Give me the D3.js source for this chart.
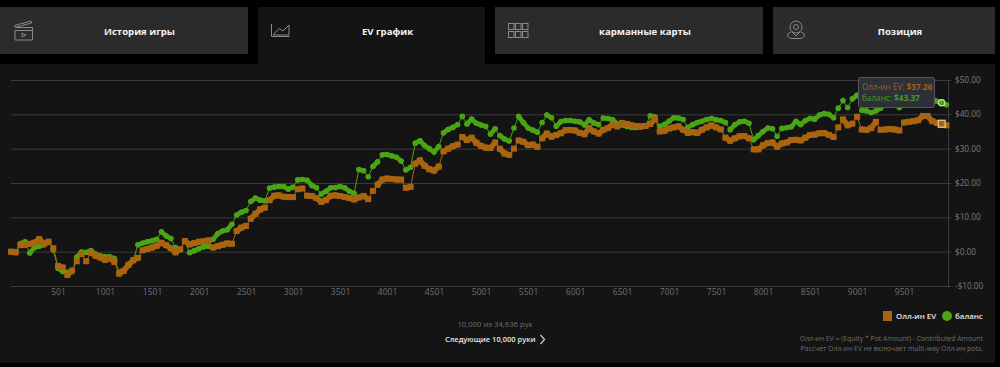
<!DOCTYPE html>
<html><head><meta charset="utf-8">
<script src="https://cdnjs.cloudflare.com/ajax/libs/d3/7.8.5/d3.min.js"></script>
<style>html,body{margin:0;padding:0;background:#000;overflow:hidden}svg{display:block}text{font-family:"Open Sans",sans-serif}</style>
</head><body><svg id="c" width="1000" height="367"></svg>
<script>
const handStep = 50;
const evValues = [0,-0.2,1.9,2,2.3,2.6,3.7,2.3,2.9,1,-4.2,-4.6,-6.8,-5.5,-2.8,-0.7,-2.8,-0.3,-1.2,-1.7,-2.4,-1.9,-3,-6.4,-5.6,-3.8,-2.5,-1.8,0.4,0.8,1.2,1.7,2.6,1.9,1,-0.2,0.7,3.1,2.1,2.5,2.9,3,3.3,1.2,1.6,2,2.4,2.3,6,7,7.5,9.6,11,12.3,12.8,15,16.3,16.4,16,15.9,15.9,18.2,18.4,16.3,16.2,15.6,14.5,15,16.3,16.4,16.2,15.9,15.6,15.2,15.8,16.2,15.3,17.7,19.5,21,21.3,21.2,21,21,18.6,18.9,25.6,26.6,25,24,23.6,24.8,29.2,30,30.7,31.2,33.4,32.5,33.2,31.7,30.8,30.3,30.2,31.8,30,28.6,28.2,30,32.4,32,31,31.2,30.5,33,34.4,33.5,34,34.5,35.4,35.4,35.3,34.6,34.2,36,35,34.4,35.5,36,37,36.5,37.5,37.2,36.8,36.6,36.5,36.6,37.2,38.6,35,35.2,35.9,36.2,36.5,35.5,34.6,34.8,34.6,35.5,36.2,36.8,36.2,35.6,33.2,32.3,33,33.6,33.7,33,29.8,29.8,31,31.6,31.8,30.6,31.5,31.8,32.5,32.6,32.4,33.2,34,34.1,34.5,34.5,34,33.4,36.2,38.5,36.8,37.3,39.3,35.6,35.5,36,37.8,35.5,35.6,35.7,35.6,35.3,37.6,37.8,38,38.3,39.5,39.5,38,37.5,37.26,36.8];
const balanceValues = [0,-0.1,2.4,2.9,-0.4,1.2,1.6,2,2.8,0.5,-4.8,-5.8,-6,-5.8,-1.6,-0.1,-0.2,0.3,-0.7,-1.2,-1.5,-1.5,-2,-6,-5.5,-3.8,-2.4,2,2.5,2.9,3.2,3.6,5.8,4.6,3.8,1.2,0.6,3,-0.3,0.3,0.9,1.4,1.6,3.6,5.3,6,6.4,8,10.7,11.5,12,14.6,15.6,15,14.8,18.5,18.8,19,19,18.2,18.8,20.9,21,20.8,19.3,18.6,16.8,17.6,18.6,18.7,19,18.6,17.6,17,23.9,23.6,21.8,24.8,26.2,28.2,28.3,27.9,27.5,26.4,23.8,24.6,31.6,32.3,30.9,30,29,30.6,34.6,35.6,36.2,37,39.4,37.2,38.6,37.4,36.9,36.5,34.2,35.8,33.8,32.8,32.2,36,39.4,37.6,36,35.4,34.8,37.6,39.8,39,36.5,37.9,38.2,38.2,38,37.8,36.9,38.4,37.5,37,38.9,38.8,38.4,37.2,36.9,36.5,36.2,36.2,36.3,36.6,39.6,39.3,36.5,37,38,39,38.9,38.5,36.2,37,37.6,38,38.5,38.8,38.4,38.2,37.6,35.5,37,37.8,38,37.4,32.6,33.8,35,36,35.8,33.6,35.9,36.1,36.4,38,37,38.2,38.8,38.6,39.8,40.2,40,39,41.8,44,42,44.5,45.6,41.2,41,40.5,41,41.8,44,46,43,42,44,45,44.5,44,46.5,46,44.5,43.8,43.37,42.8];
const hands = evValues.map((_, i) => 1 + i * handStep);
const xTicks = [501,1001,1501,2001,2501,3001,3501,4001,4501,5001,5501,6001,6501,7001,7501,8001,8501,9001,9501];
const yTicks = [-10,0,10,20,30,40,50];
const tabs = ["История игры","EV график","карманные карты","Позиция"];
const legendNames = ["Олл-ин EV","баланс"];
const footnotes = ["Олл-ин EV = (Equity * Pot Amount) - Contributed Amount","Рассчет Олл-ин EV не включает multi-way Олл-ин pots."];

const evColor = "#a9640f", balColor = "#4aa515";
const svg = d3.select("#c");
const x = d3.scaleLinear().domain([1,10000]).range([11,951]);
const y = d3.scaleLinear().domain([-10,50]).range([286,80]);
const fmt = v => (v<0?"-$":"$") + Math.abs(v).toFixed(2);

// panel and tabs
svg.append("rect").attr("x",0).attr("y",64).attr("width",995).attr("height",299).attr("fill","#141414");
const tabBox = [[0,248,7,47,"#2b2b2b"],[258,227,7,57,"#141414"],[495,268,7,47,"#2b2b2b"],[773,222,7,47,"#2b2b2b"]];
const tabCx = [139.5,387.5,645,900];
tabBox.forEach((t,i)=>{
  svg.append("rect").attr("x",t[0]).attr("y",t[2]).attr("width",t[1]).attr("height",t[3]).attr("fill",t[4]);
  svg.append("text").attr("x",tabCx[i]).attr("y",34.5).attr("text-anchor","middle")
    .attr("font-size",9.6).attr("font-weight",700).attr("fill","#f4f4f4").text(tabs[i]);
});
const icon = svg.append("g").attr("fill","none").attr("stroke","#8a8a8a").attr("stroke-width",1);
icon.append("path").attr("d","M15 30.5H32.5V40H15ZM15 27.5H32.5V30.5M14.5 25.5L31 21L31.5 23L15 27.5ZM22 33V37L26 35Z");
icon.append("path").attr("d","M271.5 24V36.5H289.5M273 35L279 28.5L283 31L289 25V35Z");
d3.range(3).forEach(c=>d3.range(2).forEach(r=>icon.append("rect").attr("x",508.5+c*7).attr("y",23.5+r*8).attr("width",5.5).attr("height",6)));
icon.append("circle").attr("cx",796).attr("cy",27).attr("r",6);
icon.append("circle").attr("cx",796).attr("cy",27).attr("r",2.5);
icon.append("path").attr("d","M792 32L796 36L800 32M791 32C785 34 788 38.5 792 38.5H800C804 38.5 807 34 801 32");

// axes via d3-axis
const gy = svg.append("g").attr("transform","translate(948,0)")
  .call(d3.axisRight(y).tickValues(yTicks).tickFormat(fmt).tickSize(3).tickPadding(4));
gy.selectAll("text").attr("font-size",8.2).attr("fill","#7d7d7d").attr("x",7);
gy.selectAll("line").attr("stroke","#444");
gy.select(".domain").attr("stroke","#3a3a3a").attr("d","M0.5,80V286");
const grid = svg.append("g");
grid.selectAll("line").data(yTicks).join("line")
  .attr("x1",11).attr("x2",948).attr("y1",d=>y(d)+0.5).attr("y2",d=>y(d)+0.5).attr("stroke","#3a3a3a");
const gx = svg.append("g").attr("transform","translate(0,286)")
  .call(d3.axisBottom(x).tickValues(xTicks).tickFormat(d3.format("d")).tickSize(0).tickPadding(3));
gx.select(".domain").remove();
gx.selectAll("text").attr("font-size",8.5).attr("fill","#6f6f6f");

// series: thin joins on big jumps, heavy joins where the trace is dense
const bigJump = 1.8;
const drawSeries = (vals, color, square, heavy) => {
  const g = svg.append("g");
  const segs = d3.pairs(vals.map((v,i)=>[x(hands[i]),y(v),v]));
  g.selectAll("line").data(segs).join("line")
    .attr("x1",d=>d[0][0]).attr("y1",d=>d[0][1]).attr("x2",d=>d[1][0]).attr("y2",d=>d[1][1])
    .attr("stroke",color).attr("stroke-linecap","round")
    .attr("stroke-width",d=>Math.abs(d[1][2]-d[0][2])>bigJump?1:heavy);
  if(square) g.selectAll("rect").data(vals).join("rect")
    .attr("x",(d,i)=>x(hands[i])-3).attr("y",d=>y(d)-3).attr("width",6).attr("height",6).attr("fill",color);
  else g.selectAll("circle").data(vals).join("circle")
    .attr("cx",(d,i)=>x(hands[i])).attr("cy",d=>y(d)).attr("r",2.8).attr("fill",color);
};
drawSeries(balanceValues, balColor, false, 4.6);
drawSeries(evValues, evColor, true, 5.6);

// hover state
const hi = evValues.length - 2;
svg.append("circle").attr("cx",x(hands[hi])).attr("cy",y(balanceValues[hi])).attr("r",3.2)
  .attr("fill",balColor).attr("stroke","#c9e6b5").attr("stroke-width",1.2);
svg.append("rect").attr("x",x(hands[hi])-3.5).attr("y",y(evValues[hi])-3.5).attr("width",7).attr("height",7)
  .attr("fill",evColor).attr("stroke","#e0c9a8").attr("stroke-width",1.2);
svg.append("rect").attr("x",858.5).attr("y",77.5).attr("width",76).attr("height",30).attr("rx",2)
  .attr("fill","#2d2f39").attr("stroke","#555863");
const t1 = svg.append("text").attr("x",862).attr("y",90).attr("font-size",8.2).attr("fill","#a85f17");
t1.append("tspan").text(legendNames[0]+": ");
t1.append("tspan").attr("font-weight",700).text(fmt(evValues[hi]));
const t2 = svg.append("text").attr("x",862).attr("y",101).attr("font-size",8.2).attr("fill","#4a9a1f");
t2.append("tspan").text(legendNames[1]+": ");
t2.append("tspan").attr("font-weight",700).text(fmt(balanceValues[hi]));

// legend
svg.append("rect").attr("x",883).attr("y",311).attr("width",9).attr("height",10).attr("fill",evColor);
svg.append("text").attr("x",896).attr("y",319).attr("font-size",7.9).attr("font-weight",600).attr("fill","#e6e6e6").text(legendNames[0]);
svg.append("circle").attr("cx",947).attr("cy",316).attr("r",5).attr("fill",balColor);
svg.append("text").attr("x",955).attr("y",319).attr("font-size",7.9).attr("font-weight",600).attr("fill","#e6e6e6").text(legendNames[1]);

// footer
svg.append("text").attr("x",495).attr("y",327).attr("text-anchor","middle").attr("font-size",7.7).attr("fill","#6f6f6f").text("10,000 из 34,636 рук");
svg.append("text").attr("x",445).attr("y",342).attr("font-size",7.5).attr("font-weight",600).attr("fill","#e6e6e6").text("Следующие 10,000 руки");
svg.append("path").attr("d","M540.5 335L544.5 339.5L540.5 344").attr("fill","none").attr("stroke","#d0d0d0").attr("stroke-width",1.2);
footnotes.forEach((t,i)=>svg.append("text").attr("x",983).attr("y",341+i*10).attr("text-anchor","end")
  .attr("font-size",6.9).attr("fill","#6f6f6f").text(t));
</script></body></html>
